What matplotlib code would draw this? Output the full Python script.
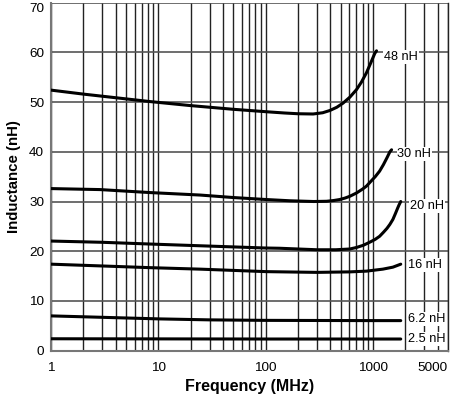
import numpy as np
import matplotlib
matplotlib.use("Agg")
import matplotlib.pyplot as plt
from matplotlib.ticker import FixedLocator, LogLocator, NullFormatter

plt.rcParams['font.family'] = ['Liberation Sans', 'DejaVu Sans']

# ── curve data (frequency in MHz, inductance in nH) ──
freq_48 = [1, 2, 8.35, 19.7, 49.5, 102, 150, 200, 277, 340, 396, 460, 527,
           610, 702, 780, 870, 950, 1040, 1079]
ind_48 = [52.4, 51.6, 50.1, 49.3, 48.55, 48.05, 47.8, 47.65, 47.6, 47.85, 48.3,
          48.95, 49.8, 51.0, 52.5, 54.0, 55.9, 57.8, 59.8, 60.3]

freq_30 = [1, 2.86, 8.35, 24.5, 50, 101, 168, 280, 370, 430, 490, 550, 608,
           700, 800, 870, 950, 1050, 1152, 1250, 1350, 1437, 1490]
ind_30 = [32.6, 32.4, 31.8, 31.3, 30.8, 30.4, 30.15, 30.0, 30.05, 30.2, 30.4,
          30.7, 31.05, 31.7, 32.5, 33.1, 34.0, 35.0, 36.1, 37.4, 38.8, 40.0, 40.4]

freq_20 = [1, 3, 8.35, 24.5, 100, 135, 300, 450, 608, 700, 813, 950, 1050,
           1152, 1250, 1350, 1437, 1533, 1620, 1700, 1748, 1814]
ind_20 = [22.05, 21.8, 21.45, 21.1, 20.65, 20.6, 20.3, 20.3, 20.45, 20.75, 21.2,
          21.9, 22.4, 23.0, 23.8, 24.6, 25.4, 26.4, 27.6, 28.7, 29.3, 30.0]

freq_16 = [1, 8.35, 24.5, 101, 300, 608, 870, 1235, 1533, 1814]
ind_16 = [17.4, 16.7, 16.4, 15.9, 15.75, 15.85, 16.0, 16.4, 16.8, 17.4]

freq_6 = [1, 10, 30, 100, 1000, 1814]
ind_6 = [7.0, 6.4, 6.2, 6.1, 6.05, 6.05]

freq_2 = [1, 100, 1814]
ind_2 = [2.4, 2.35, 2.35]

curve_labels = ["48 nH", "30 nH", "20 nH", "16 nH", "6.2 nH", "2.5 nH"]
label_x = [1268, 1690, 2203, 2123, 2123, 2123]
label_y = [59.1, 39.5, 29.1, 17.2, 6.3, 2.35]

x_ticks = [1, 10, 100, 1000, 5000]
y_ticks = [0, 10, 20, 30, 40, 50, 60, 70]

fig = plt.figure(figsize=(4.5, 3.97), dpi=100)
ax = fig.add_axes([51 / 450, 1 - 350.7 / 397, 397 / 450, 348.1 / 397])

ax.set_xscale('log')
ax.set_xlim(1, 5000)
ax.set_ylim(0, 70)

# grid
ax.xaxis.set_major_locator(FixedLocator(x_ticks))
ax.xaxis.set_minor_locator(LogLocator(base=10, subs=np.arange(2, 10)))
ax.xaxis.set_minor_formatter(NullFormatter())
ax.set_xticklabels([str(t) for t in x_ticks])
ax.set_yticks(y_ticks)
ax.grid(which='both', axis='x', color='#222222', lw=1.0)
ax.grid(which='major', axis='y', color='#555555', lw=1.2)
ax.tick_params(which='both', length=0, labelsize=9.7)
ax.tick_params(axis='x', pad=8)
ax.tick_params(axis='y', pad=5)
ax.get_xticklabels()[-1].set_horizontalalignment('right')
ax.get_yticklabels()[-1].set_verticalalignment('top')

for s in ['left', 'bottom']:
    ax.spines[s].set_color('#777777')
    ax.spines[s].set_linewidth(1.5)
ax.spines['top'].set_visible(False)
ax.spines['right'].set_color('#222222')
ax.spines['right'].set_linewidth(1.0)

# curves
for fx, iy in [(freq_48, ind_48), (freq_30, ind_30), (freq_20, ind_20),
               (freq_16, ind_16), (freq_6, ind_6), (freq_2, ind_2)]:
    ax.plot(fx, iy, color='black', lw=2.2, solid_capstyle='round',
            solid_joinstyle='round', zorder=3)

for txt, lx, ly in zip(curve_labels, label_x, label_y):
    ax.text(lx, ly, txt, ha='left', va='center', fontsize=9.2, zorder=4,
            bbox=dict(facecolor='white', edgecolor='none', pad=0.6))

ax.set_xlabel("Frequency (MHz)", fontsize=11.5, fontweight='bold', labelpad=4)
ax.set_ylabel("Inductance (nH)", fontsize=10.8, fontweight='bold', labelpad=6)

fig.savefig("out.png", dpi=100)
